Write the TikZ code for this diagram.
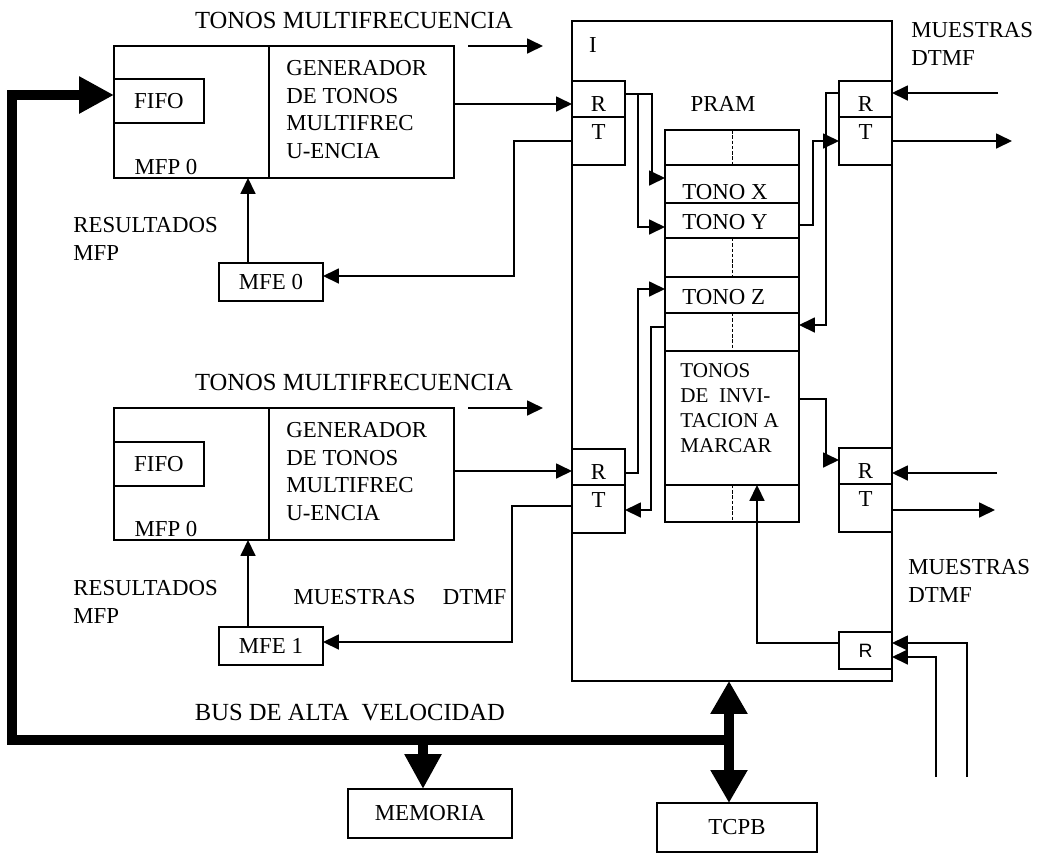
\documentclass[tikz,border=0pt]{standalone}
\usepackage{fontspec}
\setmainfont{Liberation Serif}
\setsansfont{Liberation Sans}
\usepackage{tikz}
\usetikzlibrary{
  positioning,
  arrows.meta
}
\tikzset{
  blk/.style={
    draw, line width=1pt, inner sep=0pt, outer sep=0pt, anchor=north west
  },
  rowbox/.style={
    draw, fill=white, line width=1pt, inner sep=0pt, outer sep=0pt,
    minimum width=2.68cm
  },
  txt/.style={
    font=\fontsize{13}{15.7}\selectfont, inner sep=0pt, align=left
  },
  bigtxt/.style={
    font=\fontsize{14}{16}\selectfont, inner sep=0pt
  },
  smalltxt/.style={
    font=\fontsize{12}{14.2}\selectfont, inner sep=0pt, align=left
  },
  wire/.style={
    -{Triangle[length=0.32cm,width=0.3cm]}, line width=1pt
  },
  midline/.style={
    line width=0.5pt, dash pattern=on 2pt off 1pt
  },
  busline/.style={
    line width=0.2cm, line join=miter,
    -{Triangle[length=0.7cm,width=0.7cm]}
  },
  dualbus/.style={
    line width=0.2cm,
    {Triangle[length=0.66cm,width=0.7cm]}-{Triangle[length=0.66cm,width=0.7cm]}
  }
}

\begin{document}
\begin{tikzpicture}[x=0.02cm, y=-0.02cm]
  \useasboundingbox (0,0) rectangle (1042,853);

  \node[blk, minimum width=6.4cm, minimum height=13.2cm] (ibox) at (572,21) {};
  \node[txt] (ilbl) at (593,45) {I};
  \node[txt] (pramlbl) at (723,104) {PRAM};

  % upper MFP
  \node[blk, minimum width=3.1cm, minimum height=2.64cm] (mfpA) at (114,46) {};
  \node[blk, minimum width=3.7cm, minimum height=2.64cm] (genA) at (269,46) {};
  \node[blk, txt, minimum width=1.8cm, minimum height=0.88cm] (fifoA) at (114,79) {FIFO};
  \node[txt] (mfpAlbl) at (166,167) {MFP 0};
  \node[txt, anchor=north west] (genAlbl) at (286,60) {GENERADOR\\DE TONOS\\MULTIFREC\\U-ENCIA};
  \node[bigtxt] (tonosA) at (354,20) {TONOS MULTIFRECUENCIA};
  \node[txt, anchor=north west] (resA) at (73,217) {RESULTADOS\\MFP};
  \node[blk, txt, minimum width=2.08cm, minimum height=0.76cm] (mfeA) at (219,263) {MFE 0};

  % lower MFP
  \node[blk, minimum width=3.1cm, minimum height=2.64cm] (mfpB) at (114,408) {};
  \node[blk, minimum width=3.7cm, minimum height=2.64cm] (genB) at (269,408) {};
  \node[blk, txt, minimum width=1.8cm, minimum height=0.88cm] (fifoB) at (114,442) {FIFO};
  \node[txt] (mfpBlbl) at (166,529) {MFP 0};
  \node[txt, anchor=north west] (genBlbl) at (286,422) {GENERADOR\\DE TONOS\\MULTIFREC\\U-ENCIA};
  \node[bigtxt] (tonosB) at (354,382) {TONOS MULTIFRECUENCIA};
  \node[txt, anchor=north west] (resB) at (73,580) {RESULTADOS\\MFP};
  \node[txt] (dtmfB) at (400,597) {MUESTRAS\hspace{1.2em}DTMF};
  \node[blk, txt, minimum width=2.08cm, minimum height=0.76cm] (mfeB) at (219,627) {MFE 1};

  % R/T boxes
  \node[blk, minimum width=1.06cm, minimum height=0.72cm] (rA) at (572,81) {};
  \node[blk, minimum width=1.06cm, minimum height=0.96cm, below=0pt of rA] (tA) {};
  \node[txt, above=0.1cm of tA.north] (rAlbl) {R};
  \node[txt, below=0.15cm of tA.north] (tAlbl) {T};
  \node[blk, minimum width=1.06cm, minimum height=0.72cm] (rB) at (572,449) {};
  \node[blk, minimum width=1.06cm, minimum height=0.96cm, below=0pt of rB] (tB) {};
  \node[txt, above=0.1cm of tB.north] (rBlbl) {R};
  \node[txt, below=0.15cm of tB.north] (tBlbl) {T};
  \node[blk, minimum width=1.06cm, minimum height=0.72cm] (rC) at (839,81) {};
  \node[blk, minimum width=1.06cm, minimum height=0.96cm, below=0pt of rC] (tC) {};
  \node[txt, above=0.1cm of tC.north] (rClbl) {R};
  \node[txt, below=0.15cm of tC.north] (tClbl) {T};
  \node[blk, minimum width=1.06cm, minimum height=0.72cm] (rD) at (839,448) {};
  \node[blk, minimum width=1.06cm, minimum height=0.96cm, below=0pt of rD] (tD) {};
  \node[txt, above=0.1cm of tD.north] (rDlbl) {R};
  \node[txt, below=0.15cm of tD.north] (tDlbl) {T};
  \node[blk, font=\sffamily\fontsize{11}{13}\selectfont, minimum width=1.06cm, minimum height=0.74cm] (rE) at (839,632) {R};
  \node[txt, anchor=north west] (dtmfC) at (911,22) {MUESTRAS\\DTMF};
  \node[txt, anchor=north west] (dtmfD) at (908,559) {MUESTRAS\\DTMF};

  % PRAM
  \node[rowbox, minimum height=0.7cm, anchor=north west] (row1) at (665,130) {};
  \node[rowbox, minimum height=0.76cm, below=0pt of row1] (row2) {};
  \node[font=\fontsize{13}{15.7}\selectfont, inner sep=0pt, anchor=base west] (tonoX) at (682,199) {TONO X};
  \node[rowbox, minimum height=0.7cm, below=0pt of row2] (row3) {};
  \node[txt, anchor=west] (tonoY) at (682,222) {TONO Y};
  \node[rowbox, minimum height=0.78cm, below=0pt of row3] (row4) {};
  \node[rowbox, minimum height=0.72cm, below=0pt of row4] (row5) {};
  \node[txt, anchor=west] (tonoZ) at (682,297) {TONO Z};
  \node[rowbox, minimum height=0.76cm, below=0pt of row5] (row6) {};
  \node[rowbox, minimum height=2.68cm, below=0pt of row6] (row7) {};
  \node[smalltxt, anchor=north west] (invit) at (680,363) {TONOS\\DE~~INVI-\\TACION A\\MARCAR};
  \node[rowbox, minimum height=0.74cm, below=0pt of row7] (row8) {};
  \draw[midline] (row1.north) -- (row1.south);
  \draw[midline] (row4.north) -- (row4.south);
  \draw[midline] (row6.north) -- (row6.south);
  \draw[midline] (row8.north) -- (row8.south);

  \node[blk, txt, minimum width=3.28cm, minimum height=0.98cm] (memo) at (348,789) {MEMORIA};
  \node[blk, txt, minimum width=3.2cm, minimum height=0.98cm] (tcpb) at (657,803) {TCPB};
  \node[bigtxt] (buslbl) at (350,713) {BUS DE ALTA~~VELOCIDAD};

  % free ends
  \coordinate (tmfA0) at (468,46);
  \coordinate (tmfA1) at (543,46);
  \coordinate (tmfB0) at (468,408);
  \coordinate (tmfB1) at (543,408);
  \coordinate (brA) at (638,94);
  \coordinate (inRC) at (998,93);
  \coordinate (outTC) at (1012,141);
  \coordinate (inRD) at (997,473);
  \coordinate (outTD) at (995,510);
  \coordinate (inE1) at (967,777);
  \coordinate (inE2) at (936,777);
  \coordinate (busR) at (729,740);
  \coordinate (busL) at (12,740);
  \coordinate (busM) at (423,740);

  \draw[wire] (tmfA0) -- (tmfA1);
  \draw[wire] (tmfB0) -- (tmfB1);
  \draw[wire] (genA.east |- 0,104) -- (rA.west |- 0,104);
  \draw[wire] (genB.east |- 0,471) -- (rB.west |- 0,471);
  \draw[wire] (tA.west |- 0,141) -| (514,276) -- (mfeA.east |- 0,276);
  \draw[wire] (tB.west |- 0,506) -| (512,642) -- (mfeB.east |- 0,642);
  \draw[wire] (mfeA.north -| 248,0) -- (mfpA.south -| 248,0);
  \draw[wire] (mfeB.north -| 248,0) -- (mfpB.south -| 248,0);

  \draw[wire] (rA.east |- 0,94) -| (652,178) -- (row2.west |- 0,178);
  \draw[wire] (brA) |- (row3.west |- 0,227);
  \draw[wire] (row3.east |- 0,225) -| (813,141) -- (tC.west |- 0,141);
  \draw[wire] (rC.west |- 0,93) -| (826,325) -- (row6.east |- 0,325);
  \draw[wire] (rB.east |- 0,473) -| (638,289) -- (row5.west |- 0,289);
  \draw[wire] (row6.west |- 0,327) -| (651,510) -- (tB.east |- 0,510);
  \draw[wire] (row7.east |- 0,399) -| (826,460) -- (rD.west |- 0,460);

  \draw[wire] (inRC) -- (rC.east |- inRC);
  \draw[wire] (tC.east |- outTC) -- (outTC);
  \draw[wire] (inRD) -- (rD.east |- inRD);
  \draw[wire] (tD.east |- outTD) -- (outTD);
  \draw[wire] (inE1) |- (rE.east |- 0,643);
  \draw[wire] (inE2) |- (rE.east |- 0,657);
  \draw[wire] (rE.west |- 0,643) -| (row8.north -| 757,0);

  \draw[busline] (busR) -- (busL) -- (12,95) -- (mfpA.west |- 0,95);
  \draw[busline] (busM) -- (memo.north -| busM);
  \draw[dualbus] (tcpb.north -| busR) -- (ibox.south -| busR);
\end{tikzpicture}
\end{document}
